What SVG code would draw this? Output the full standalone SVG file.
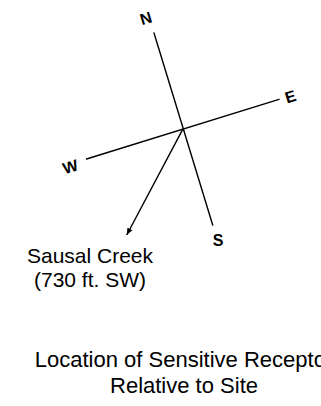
<svg xmlns="http://www.w3.org/2000/svg" width="321" height="406" viewBox="0 0 321 406">
  <style>
    .ln { stroke: #000; stroke-width: 1.4; fill: none; stroke-linecap: round; }
    .dir { font-family: "Liberation Sans", Arial, sans-serif; font-size: 16px; font-weight: bold; fill: #000; text-anchor: middle; }
    .lbl { font-family: "Liberation Sans", Arial, sans-serif; font-size: 21px; fill: #000; text-anchor: middle; }
    .ttl { font-family: "Liberation Sans", Arial, sans-serif; font-size: 22px; fill: #000; text-anchor: middle; }
  </style>
  <defs>
    <marker id="arr" viewBox="0 0 10 10" refX="9" refY="5" markerWidth="7" markerHeight="7" markerUnits="userSpaceOnUse" orient="auto">
      <path d="M0,1 L10,5 L0,9 Z" fill="#000"/>
    </marker>
  </defs>
  <rect width="321" height="406" fill="#fff"/>
  <g id="connectors">
    <line class="ln" x1="154" y1="33" x2="212.7" y2="225"/>
    <line class="ln" x1="86.5" y1="159" x2="279" y2="99.3"/>
    <line class="ln" x1="182.7" y1="129.3" x2="127" y2="234.5" marker-end="url(#arr)"/>
  </g>
  <g id="north"><text class="dir" transform="translate(147.5,23.5) rotate(-17)">N</text></g>
  <g id="east"><text class="dir" transform="translate(292,102) rotate(-17)">E</text></g>
  <g id="west"><text class="dir" transform="translate(72,172) rotate(-17)">W</text></g>
  <g id="south"><text class="dir" x="218" y="246">S</text></g>
  <g id="sausal-creek">
    <text class="lbl" x="90" y="263">Sausal Creek</text>
    <text class="lbl" x="90" y="286.5">(730 ft. SW)</text>
  </g>
  <g id="title">
    <text class="ttl" x="184" y="367">Location of Sensitive Receptor</text>
    <text class="ttl" x="184" y="393">Relative to Site</text>
  </g>
</svg>
